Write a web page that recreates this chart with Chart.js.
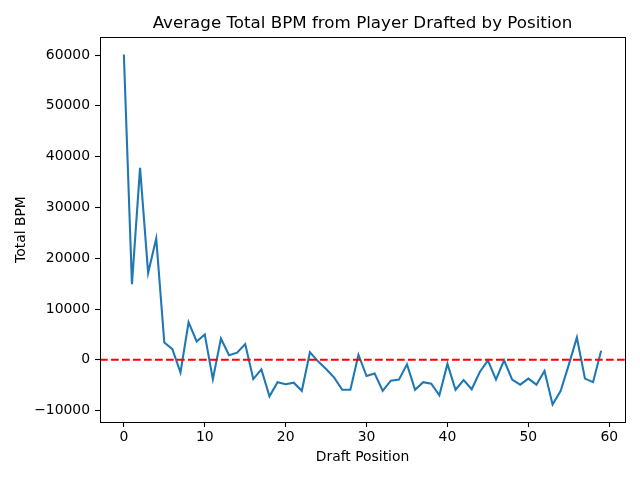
<!DOCTYPE html>
<html>
<head>
<meta charset="utf-8">
<script src="https://cdn.jsdelivr.net/npm/chart.js@4/dist/chart.umd.min.js"></script>
<style>
html,body{margin:0;padding:0;background:#fff;}
#wrap{width:640px;height:480px;}
</style>
</head>
<body>
<div id="wrap"><canvas id="c" width="640" height="480"></canvas></div>
<script>
const draftPositions = [0,1,2,3,4,5,6,7,8,9,10,11,12,13,14,15,16,17,18,19,20,21,22,23,24,25,26,27,28,29,30,31,32,33,34,35,36,37,38,39,40,41,42,43,44,45,46,47,48,49,50,51,52,53,54,55,56,57,58,59];
const totalBPM = [60100,14900,37800,17100,23900,3400,2100,-2500,7400,3600,5000,-3800,4200,900,1400,3100,-3800,-1900,-7200,-4400,-4800,-4500,-6100,1500,-300,-1800,-3500,-5900,-5900,1000,-3200,-2700,-6100,-4100,-3900,-900,-5900,-4400,-4700,-7000,-800,-5900,-4000,-5800,-2400,-100,-3900,-100,-3900,-4900,-3700,-4900,-2200,-8800,-6100,-1000,4400,-3700,-4400,1800];
const refLine = 0;
const xTicks = [0,10,20,30,40,50,60];
const yTicks = [-10000,0,10000,20000,30000,40000,50000,60000];
const xMin = -2.95, xMax = 61.95;
const yMin = -12245, yMax = 63545;

const lineData = draftPositions.map((p,i)=>({x:p,y:totalBPM[i]}));
const refData = [{x:xMin,y:refLine},{x:xMax,y:refLine}];

const frame = {
  id:'frame',
  beforeDraw(chart){
    const a = chart.chartArea, t = chart.titleBlock;
    if (t) { t.left = a.left; t.right = a.right; }
  },
  afterDatasetsDraw(chart){
    const {ctx, chartArea:a} = chart;
    ctx.save();
    ctx.strokeStyle='#000';
    ctx.lineWidth=1;
    ctx.strokeRect(Math.round(a.left)+0.5, Math.round(a.top)+0.5, Math.round(a.right-a.left), Math.round(a.bottom-a.top));
    ctx.restore();
  }
};
const fam = "'DejaVu Sans', sans-serif";
const fmt = v => (v<0 ? '\u2212'+Math.abs(v) : String(v));

new Chart(document.getElementById('c'), {
  type:'line',
  data:{datasets:[
    {data:refData, borderColor:'#ff0000', borderWidth:2.08, borderDash:[7.7,3.3], pointRadius:0, fill:false, order:1},
    {data:lineData, borderColor:'#1f77b4', borderWidth:2.08, pointRadius:0, fill:false, tension:0, order:2}
  ]},
  plugins:[frame],
  options:{
    responsive:false, animation:false,
    layout:{padding:{left:0,right:15,top:0,bottom:0}},
    plugins:{
      legend:{display:false}, tooltip:{enabled:false},
      title:{display:true, text:'Average Total BPM from Player Drafted by Position', color:'#000', align:'center',
        font:{family:fam,size:16.7,weight:'normal',lineHeight:1.2}, padding:{top:14,bottom:3}}
    },
    scales:{
      x:{type:'linear', min:xMin, max:xMax,
        afterBuildTicks(s){ s.ticks = xTicks.map(v=>({value:v})); },
        afterFit(s){ s.height = 58; },
        grid:{drawOnChartArea:false, drawTicks:true, tickLength:5, color:'#000', tickWidth:1.1},
        border:{display:true,color:'#000',width:1},
        ticks:{color:'#000', padding:2, font:{family:fam,size:13.9}, maxRotation:0, callback:v=>fmt(v)},
        title:{display:true, text:'Draft Position', color:'#000', font:{family:fam,size:13.9}, padding:{top:0,bottom:14.6}}
      },
      y:{type:'linear', min:yMin, max:yMax,
        afterBuildTicks(s){ s.ticks = yTicks.map(v=>({value:v})); },
        afterFit(s){ s.width = 100; },
        grid:{drawOnChartArea:false, drawTicks:true, tickLength:5, color:'#000', tickWidth:1.1},
        border:{display:true,color:'#000',width:1},
        ticks:{color:'#000', padding:5, font:{family:fam,size:13.9}, callback:v=>fmt(v)},
        title:{display:true, text:'Total BPM', color:'#000', font:{family:fam,size:13.9}, padding:{top:12.6,bottom:0}}
      }
    }
  }
});
</script>
</body>
</html>
